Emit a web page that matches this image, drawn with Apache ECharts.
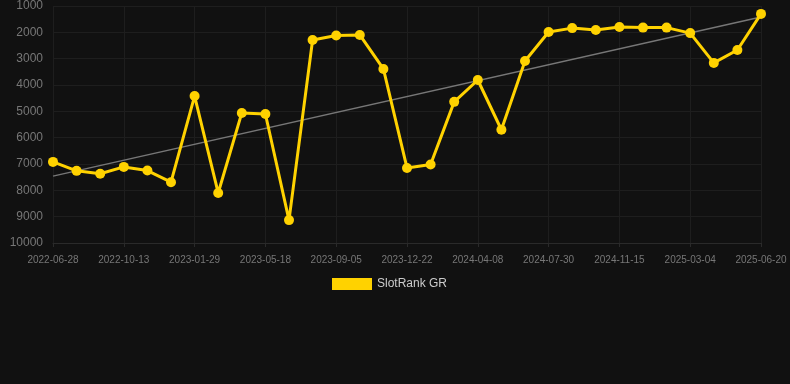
<!DOCTYPE html>
<html><head><meta charset="utf-8">
<script src="https://cdn.jsdelivr.net/npm/echarts@6/dist/echarts.min.js"></script>
<style>html,body{margin:0;padding:0;background:#111111;}#c{width:790px;height:384px;}</style>
</head><body><div id="c"></div>
<script>
const categories = ['2022-06-28','2022-08-03','2022-09-07','2022-10-13','2022-11-18','2022-12-24','2023-01-29','2023-03-07','2023-04-12','2023-05-18','2023-06-24','2023-07-30','2023-09-05','2023-10-11','2023-11-16','2023-12-22','2024-01-27','2024-03-03','2024-04-08','2024-05-14','2024-06-23','2024-07-30','2024-09-05','2024-10-10','2024-11-15','2024-12-21','2025-01-27','2025-03-04','2025-04-09','2025-05-15','2025-06-20'];
const rankValues = [6920,7260,7370,7110,7250,7690,4420,8100,5060,5100,9130,2290,2120,2100,3390,7150,7020,4640,3810,5700,3090,1990,1840,1910,1800,1820,1820,2030,3160,2670,1300];
const trendValues = [7460,1420];
const yTicks = {min:1000,max:10000,interval:1000};
const seriesName = 'SlotRank GR';

const n = categories.length;
const trendData = categories.map((c,i)=> (i===0 ? trendValues[0] : (i===n-1 ? trendValues[1] : null)));

const chart = echarts.init(document.getElementById('c'));
chart.setOption({
  backgroundColor:'#111111',
  animation:false,
  grid:{left:53,right:29,top:6,bottom:141},
  legend:{show:true,top:273,left:327,itemWidth:40,itemHeight:12,itemGap:10,
    data:[{name:seriesName,icon:'rect'}],
    textStyle:{color:'#cccccc',fontSize:12,fontFamily:'Arial, Liberation Sans, sans-serif'}},
  xAxis:{type:'category',data:categories,boundaryGap:false,
    axisLine:{show:true,lineStyle:{color:'#2a2a2a'}},
    axisTick:{show:true,interval:2,length:4,lineStyle:{color:'#2a2a2a'}},
    axisLabel:{interval:2,color:'#777777',fontSize:10,margin:12,fontFamily:'Arial, Liberation Sans, sans-serif'},
    splitLine:{show:true,interval:2,lineStyle:{color:'#1e1e1e'}}},
  yAxis:{type:'value',inverse:true,min:yTicks.min,max:yTicks.max,interval:yTicks.interval,
    axisLine:{show:false},axisTick:{show:false},
    axisLabel:{color:'#777777',fontSize:12,margin:10,fontFamily:'Arial, Liberation Sans, sans-serif',formatter:v=>String(v)},
    splitLine:{show:true,lineStyle:{color:'#1e1e1e'}}},
  series:[
    {name:'trend',type:'line',data:trendData,connectNulls:true,symbol:'none',silent:true,
     lineStyle:{color:'#777777',width:1.5},z:1},
    {name:seriesName,type:'line',data:rankValues,symbol:'circle',symbolSize:10,
     itemStyle:{color:'#FFD200'},lineStyle:{color:'#FFD200',width:3},z:2}
  ]
});
</script></body></html>
